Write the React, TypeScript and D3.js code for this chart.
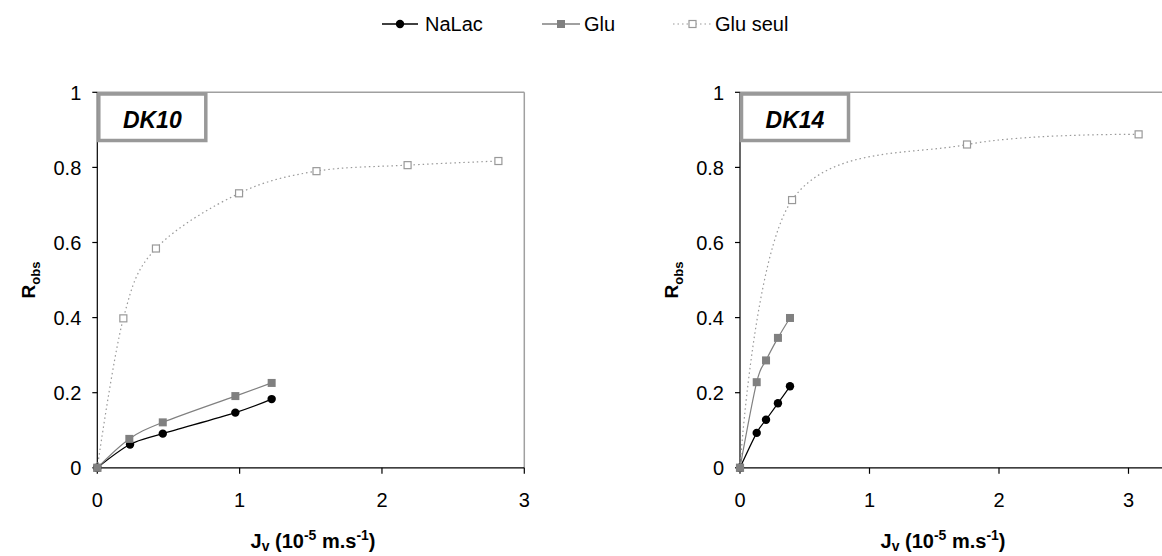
import React from 'react';
import * as d3 from 'd3';

// ---------- data ----------
const xTicks = [0, 1, 2, 3];
const yTicks = [0, 0.2, 0.4, 0.6, 0.8, 1];
const yTickLabels = ['0', '0.2', '0.4', '0.6', '0.8', '1'];

const seriesNames = ['NaLac', 'Glu', 'Glu seul'];

const dk10NaLacX = [0, 0.23, 0.46, 0.97, 1.225];
const dk10NaLacY = [0, 0.062, 0.091, 0.147, 0.183];
const dk10GluX = [0, 0.225, 0.46, 0.97, 1.225];
const dk10GluY = [0, 0.077, 0.121, 0.191, 0.226];
const dk10GluSeulX = [0, 0.183, 0.412, 0.996, 1.54, 2.18, 2.818];
const dk10GluSeulY = [0, 0.398, 0.584, 0.731, 0.79, 0.806, 0.817];

const dk14NaLacX = [0, 0.129, 0.201, 0.293, 0.386];
const dk14NaLacY = [0, 0.093, 0.128, 0.172, 0.217];
const dk14GluX = [0, 0.129, 0.201, 0.293, 0.386];
const dk14GluY = [0, 0.228, 0.286, 0.346, 0.399];
const dk14GluSeulX = [0, 0.402, 1.753, 3.078];
const dk14GluSeulY = [0, 0.713, 0.861, 0.888];

const FONT = 'Liberation Sans, Arial, sans-serif';
const BLACK = '#000';
const GRAY = '#808080';
const LIGHT = '#a0a0a0';

type Pt = [number, number];
const zip = (xs: number[], ys: number[]): Pt[] => xs.map((x, i) => [x, ys[i]]);

interface PanelProps {
  title: string;
  left: number;
  right: number; // pixel of x=3
  borderRight: number | null;
  axisEnd: number;
  titleX: number;
  nalac: Pt[];
  glu: Pt[];
  gluSeul: Pt[];
}

const TOP = 92.3;
const BOTTOM = 467.8;

function Panel(p: PanelProps) {
  const x = d3.scaleLinear().domain([0, 3]).range([p.left, p.right]);
  const y = d3.scaleLinear().domain([0, 1]).range([BOTTOM, TOP]);
  const line = d3
    .line<Pt>()
    .x((d) => x(d[0]))
    .y((d) => y(d[1]))
    .curve(d3.curveCardinal.tension(0));
  const sq = 8;
  const sqs = 7;
  return (
    <g>
      {/* plot border top/right */}
      <line x1={p.left} x2={p.axisEnd} y1={TOP} y2={TOP} stroke={LIGHT} strokeWidth={1.5} />
      {p.borderRight !== null && (
        <line x1={p.borderRight} x2={p.borderRight} y1={TOP} y2={BOTTOM} stroke={LIGHT} strokeWidth={1.5} />
      )}
      {/* y axis */}
      <line x1={p.left} x2={p.left} y1={TOP} y2={BOTTOM} stroke={BLACK} strokeWidth={1.2} />
      {yTicks.map((t, i) => (
        <g key={'y' + i}>
          <line x1={p.left - 5} x2={p.left} y1={y(t)} y2={y(t)} stroke={BLACK} strokeWidth={1.2} />
          <text x={p.left - 16} y={y(t)} dy="0.36em" textAnchor="end" fontSize={20} fontFamily={FONT}>
            {yTickLabels[i]}
          </text>
        </g>
      ))}
      {/* x axis */}
      <line x1={p.left} x2={p.axisEnd} y1={BOTTOM} y2={BOTTOM} stroke={BLACK} strokeWidth={1.2} />
      {xTicks.map((t) => (
        <g key={'x' + t}>
          <line x1={x(t)} x2={x(t)} y1={BOTTOM} y2={BOTTOM + 6} stroke={BLACK} strokeWidth={1.2} />
          <text x={x(t)} y={507} textAnchor="middle" fontSize={20} fontFamily={FONT}>
            {t}
          </text>
        </g>
      ))}
      {/* axis titles */}
      <text x={p.titleX} y={548} textAnchor="middle" fontSize={20} fontWeight="bold" fontFamily={FONT}>
        J<tspan fontSize={14} dy={3}>v</tspan>
        <tspan dy={-3}> (10</tspan>
        <tspan fontSize={14} dy={-8}>-5</tspan>
        <tspan dy={8}> m.s</tspan>
        <tspan fontSize={14} dy={-8}>-1</tspan>
        <tspan dy={8}>)</tspan>
      </text>
      <text
        transform={`translate(${p.left - 62},${(TOP + BOTTOM) / 2}) rotate(-90)`}
        textAnchor="middle"
        fontSize={19}
        fontWeight="bold"
        fontFamily={FONT}
      >
        R<tspan fontSize={13} dy={5}>obs</tspan>
      </text>

      {/* Glu seul */}
      <path d={line(p.gluSeul) || ''} fill="none" stroke="#999" strokeWidth={1.2} strokeDasharray="1.5,3" />
      {p.gluSeul.map((d, i) => (
        <rect
          key={'gs' + i}
          x={x(d[0]) - sqs / 2}
          y={y(d[1]) - sqs / 2}
          width={sqs}
          height={sqs}
          fill="#fff"
          stroke="#999"
          strokeWidth={1.2}
        />
      ))}
      {/* NaLac */}
      <path d={line(p.nalac) || ''} fill="none" stroke={BLACK} strokeWidth={1.2} />
      {p.nalac.map((d, i) => (
        <circle key={'n' + i} cx={x(d[0])} cy={y(d[1])} r={4.2} fill={BLACK} />
      ))}
      {/* Glu */}
      <path d={line(p.glu) || ''} fill="none" stroke={GRAY} strokeWidth={1.2} />
      {p.glu.map((d, i) => (
        <rect key={'g' + i} x={x(d[0]) - sq / 2} y={y(d[1]) - sq / 2} width={sq} height={sq} fill={GRAY} />
      ))}

      {/* label box */}
      <rect x={p.left + 1.5} y={TOP + 1.7} width={107} height={46.5} fill="#fff" stroke="#999" strokeWidth={3.5} />
      <text
        x={p.left + 55}
        y={TOP + 36}
        textAnchor="middle"
        fontSize={23}
        fontWeight="bold"
        fontStyle="italic"
        fontFamily={FONT}
      >
        {p.title}
      </text>
    </g>
  );
}

function Legend() {
  const ly = 24;
  const items = [
    { x1: 382, x2: 418, tx: 425 },
    { x1: 542, x2: 580, tx: 584 },
    { x1: 673, x2: 712, tx: 715 },
  ];
  return (
    <g>
      {items.map((it, i) => {
        const cx = (it.x1 + it.x2) / 2;
        return (
          <g key={i}>
            {i === 0 && (
              <>
                <line x1={it.x1} x2={it.x2} y1={ly} y2={ly} stroke={BLACK} strokeWidth={1.3} />
                <circle cx={cx} cy={ly} r={4.2} fill={BLACK} />
              </>
            )}
            {i === 1 && (
              <>
                <line x1={it.x1} x2={it.x2} y1={ly} y2={ly} stroke={GRAY} strokeWidth={1.3} />
                <rect x={cx - 4} y={ly - 4} width={8} height={8} fill={GRAY} />
              </>
            )}
            {i === 2 && (
              <>
                <line x1={it.x1} x2={it.x2} y1={ly} y2={ly} stroke="#999" strokeWidth={1.2} strokeDasharray="1.5,3" />
                <rect x={cx - 3.5} y={ly - 3.5} width={7} height={7} fill="#fff" stroke="#999" strokeWidth={1.2} />
              </>
            )}
            <text x={it.tx} y={ly} dy="0.36em" fontSize={20} fontFamily={FONT}>
              {seriesNames[i]}
            </text>
          </g>
        );
      })}
    </g>
  );
}

export default function App() {
  return (
    <svg
      width={1162}
      height={556}
      style={{ position: 'absolute', left: 0, top: 0, background: '#fff' }}
    >
      <rect width={1162} height={556} fill="#fff" />
      <Legend />
      <Panel
        title="DK10"
        left={97.3}
        right={524.3}
        borderRight={524.3}
        axisEnd={524.3}
        titleX={313}
        nalac={zip(dk10NaLacX, dk10NaLacY)}
        glu={zip(dk10GluX, dk10GluY)}
        gluSeul={zip(dk10GluSeulX, dk10GluSeulY)}
      />
      <Panel
        title="DK14"
        left={740}
        right={1128.5}
        borderRight={null}
        axisEnd={1170}
        titleX={943}
        nalac={zip(dk14NaLacX, dk14NaLacY)}
        glu={zip(dk14GluX, dk14GluY)}
        gluSeul={zip(dk14GluSeulX, dk14GluSeulY)}
      />
    </svg>
  );
}
